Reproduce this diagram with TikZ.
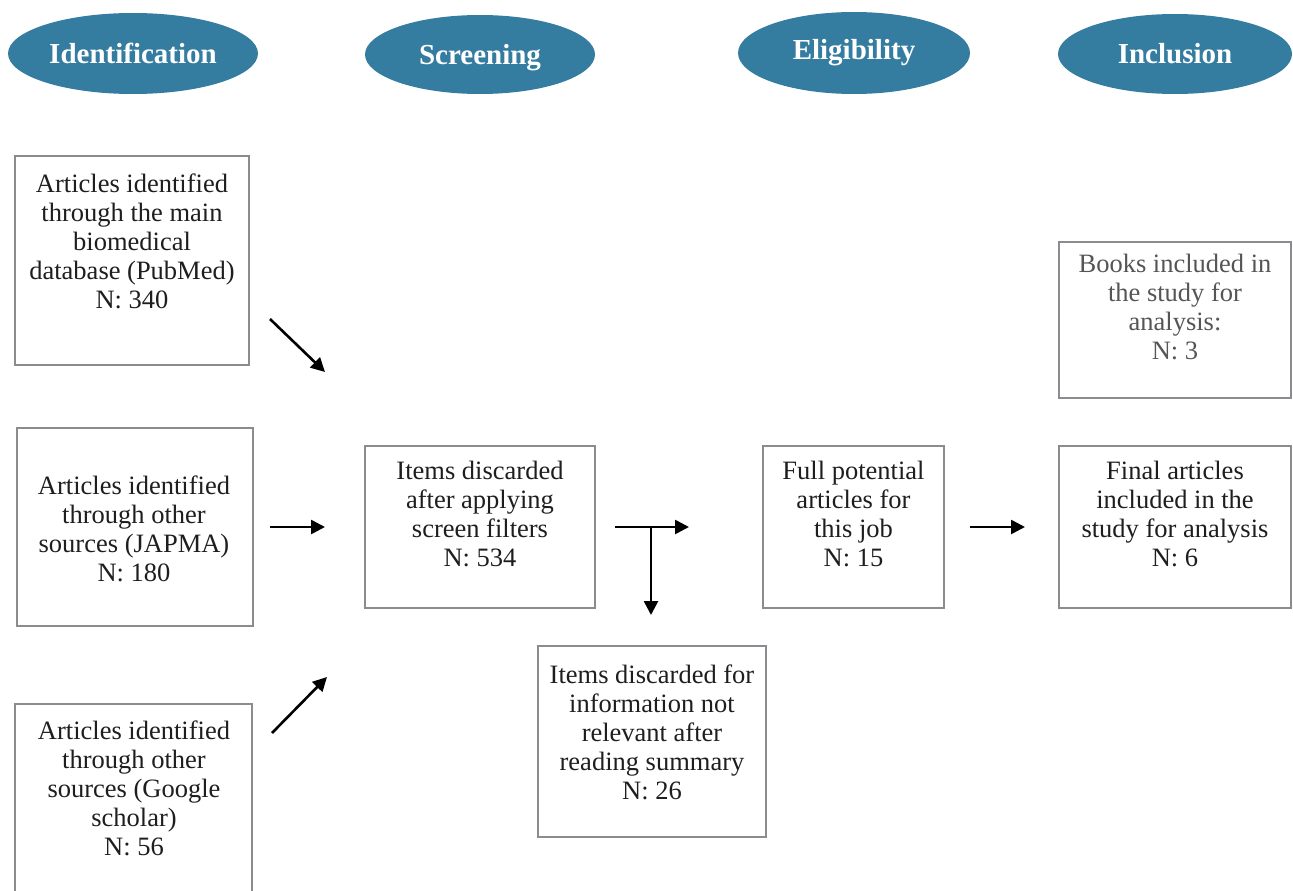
\documentclass[tikz,border=0pt]{standalone}
\usepackage{fontspec}
\setmainfont{Liberation Serif}
\usetikzlibrary{shapes.geometric,arrows.meta}
\definecolor{phasecol}{HTML}{357DA0}
\definecolor{boxgray}{HTML}{8C8C90}
\definecolor{txtcol}{HTML}{1E1E1E}
\definecolor{txtgray}{HTML}{555555}
\begin{document}
\begin{tikzpicture}[x=1pt,y=-1pt,
  phase/.style={ellipse, fill=phasecol, text=white, font=\fontsize{29}{32}\selectfont\bfseries, inner sep=0pt},
  box/.style={draw=boxgray, line width=2pt, inner sep=0pt},
  label/.style={text=txtcol, align=center, inner sep=0pt, anchor=north, font=\fontsize{26.5}{29}\selectfont},
  arr/.style={line width=2.6pt, -{Triangle[length=14pt,width=14pt]}}]
\useasboundingbox (0,0) rectangle (1293,891);
\clip (0,0) rectangle (1293,891);
% phases
\node[phase, minimum width=250pt, minimum height=81pt] (p1) at (133,53.5) {Identification};
\node[phase, minimum width=230pt, minimum height=79pt, text depth=0pt] (p2) at (480,54.5) {Screening};
\node[phase, minimum width=232pt, minimum height=82pt] (p3) at (854,53) {Eligibility};
\node[phase, minimum width=234pt, minimum height=80pt] (p4) at (1175,54) {Inclusion};
% boxes
\node[box, minimum width=234pt, minimum height=209pt] (b1) at (132,260.5) {};
\node[box, minimum width=236pt, minimum height=198pt] (b2) at (135,527) {};
\node[box, minimum width=237pt, minimum height=196pt] (b3) at (133.5,802) {};
\node[box, minimum width=230pt, minimum height=162pt] (s1) at (480,527) {};
\node[box, minimum width=228pt, minimum height=191pt] (s2) at (652,741.5) {};
\node[box, minimum width=181pt, minimum height=162pt] (e1) at (853.5,527) {};
\node[box, minimum width=232pt, minimum height=156pt] (i1) at (1175,320) {};
\node[box, minimum width=232pt, minimum height=162pt] (i2) at (1175,527) {};
% texts
\node[label] (tb1) at (132,174) {Articles identified\\through the main\\biomedical\\database (PubMed)\\N: 340};
\node[label] (tb2) at (134,476) {Articles identified\\through other\\sources (JAPMA)\\N: 180};
\node[label] (tb3) at (134,721) {Articles identified\\through other\\sources (Google\\scholar)\\N: 56};
\node[label] (ts1) at (480,461) {Items discarded\\after applying\\screen filters\\N: 534};
\node[label] (ts2) at (652,665) {Items discarded for\\information not\\relevant after\\reading summary\\N: 26};
\node[label] (te1) at (853.5,461) {Full potential\\articles for\\this job\\N: 15};
\node[label, text=txtgray] (ti1) at (1175,254) {Books included in\\the study for\\analysis:\\N: 3};
\node[label] (ti2) at (1175,461) {Final articles\\included in the\\study for analysis\\N: 6};
% arrows
\coordinate (a1s) at (270,319); \coordinate (a1e) at (325,372);
\coordinate (a2s) at (270,527); \coordinate (a2e) at (325,527);
\coordinate (a3s) at (272,733); \coordinate (a3e) at (327,677);
\coordinate (a4s) at (615,527); \coordinate (a4e) at (689,527);
\coordinate (a4j) at (651,527); \coordinate (a4d) at (651,615);
\coordinate (a5s) at (970,527); \coordinate (a5e) at (1025,527);
\draw[arr] (a1s) -- (a1e);
\draw[arr] (a2s) -- (a2e);
\draw[arr] (a3s) -- (a3e);
\draw[arr] (a4s) -- (a4e);
\draw[arr] (a4j) -- (a4d);
\draw[arr] (a5s) -- (a5e);
\end{tikzpicture}
\end{document}
